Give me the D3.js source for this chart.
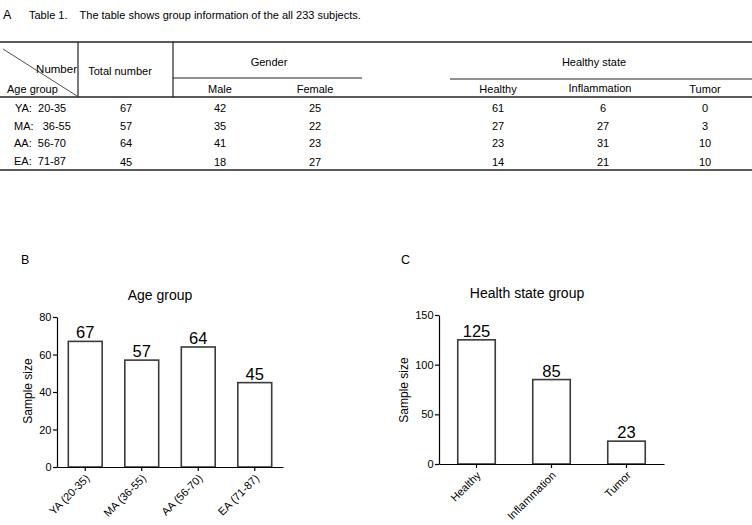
<!DOCTYPE html>
<html><head><meta charset="utf-8">
<script src="https://cdn.jsdelivr.net/npm/d3@7/dist/d3.min.js"></script>
<style>
html,body{margin:0;padding:0;background:#fff;}
svg{display:block;font-family:"Liberation Sans",Arial,sans-serif;}
</style></head>
<body>
<svg id="c" width="752" height="525"></svg>
<script>
// ---- data ----
const rowLabels = ["YA:  20-35", "MA:   36-55", "AA:  56-70", "EA:  71-87"];
const totalNumber = [67, 57, 64, 45];
const male = [42, 35, 41, 18];
const female = [25, 22, 23, 27];
const healthy = [61, 27, 23, 14];
const inflammation = [6, 27, 31, 21];
const tumor = [0, 3, 10, 10];

const ageCategories = ["YA (20-35)", "MA (36-55)", "AA (56-70)", "EA (71-87)"];
const ageValues = [67, 57, 64, 45];
const ageTicks = [0, 20, 40, 60, 80];

const healthCategories = ["Healthy", "Inflammation", "Tumor"];
const healthValues = [125, 85, 23];
const healthTicks = [0, 50, 100, 150];

const svg = d3.select("#c");
const FONT = "Liberation Sans, Arial, sans-serif";

// ---- Panel A: table ----
svg.append("text").attr("x", 3).attr("y", 19).attr("font-size", 12.5).text("A");
svg.append("text").attr("x", 29).attr("y", 19).attr("font-size", 11).attr("xml:space","preserve")
  .text("Table 1.    The table shows group information of the all 233 subjects.");

const ln = (x1,y1,x2,y2,w)=>svg.append("line").attr("x1",x1).attr("y1",y1).attr("x2",x2).attr("y2",y2)
  .attr("stroke","#222").attr("stroke-width",w||1);
ln(0,42,752,42,1.5);
ln(0,97,752,97,1.3);
ln(0,170,752,170,1.5);
ln(173,78,362,78,1);
ln(450,79,752,79,1);
ln(78,42,78,97,1.2);
ln(173,42,173,97,1.2);
ln(3,49,77,96,0.8);

const txt = (x,y,s,anchor,size)=>svg.append("text").attr("x",x).attr("y",y)
  .attr("font-size",size||11).attr("text-anchor",anchor||"middle").attr("xml:space","preserve").text(s);
txt(77,73,"Number","end",11.5);
txt(7,93,"Age group","start");
txt(120,75,"Total number");
txt(269,66,"Gender");
txt(220,93,"Male");
txt(315,93,"Female");
txt(594,66,"Healthy state");
txt(498,93,"Healthy");
txt(600,92,"Inflammation");
txt(705,93,"Tumor");

const rowY = d3.scaleBand().domain(d3.range(4)).range([99,170]);
const cols = [
  {x:126, v:totalNumber}, {x:220, v:male}, {x:315, v:female},
  {x:498, v:healthy}, {x:603, v:inflammation}, {x:705, v:tumor}
];
rowLabels.forEach((lab,i)=>{
  const y = rowY(i) + rowY.bandwidth()/2 + 4;
  txt(i===0?15:14, y, lab, "start");
  cols.forEach(c=>txt(c.x, y + (i===3?1:0), String(c.v[i])));
});

// ---- bar chart helper ----
function barChart(o){
  const g = svg.append("g");
  const x = d3.scaleBand().domain(o.cats).range([o.x0,o.x1]).paddingInner(o.pi).paddingOuter(o.po);
  const y = d3.scaleLinear().domain([0,o.ymax]).range([o.y0,o.y1]);
  g.append("text").attr("x",o.letterX).attr("y",o.letterY).attr("font-size",12.5).text(o.letter);
  g.append("text").attr("x",o.titleX).attr("y",o.titleY).attr("font-size",14).attr("text-anchor","middle").text(o.title);
  g.selectAll("rect.bar").data(o.vals).join("rect").attr("class","bar")
    .attr("x",(d,i)=>x(o.cats[i])).attr("width",x.bandwidth())
    .attr("y",d=>y(d)).attr("height",d=>y(0)-y(d))
    .attr("fill","#fff").attr("stroke","#3a3a3a").attr("stroke-width",1.6);
  g.selectAll("text.val").data(o.vals).join("text").attr("class","val")
    .attr("x",(d,i)=>x(o.cats[i])+x.bandwidth()/2).attr("y",d=>y(d)-3)
    .attr("text-anchor","middle").attr("font-size",16.5).text(d=>d);
  const ya = g.append("g").attr("transform",`translate(${o.x0},0)`)
    .call(d3.axisLeft(y).tickValues(o.ticks).tickSize(4).tickSizeOuter(0).tickPadding(1.5));
  ya.attr("font-family",FONT).attr("font-size",11);
  ya.selectAll("text").attr("fill","#000");
  const xa = g.append("g").attr("transform",`translate(0,${o.y0})`)
    .call(d3.axisBottom(x).tickSize(4).tickSizeOuter(0));
  xa.attr("font-family",FONT).attr("font-size",11);
  xa.selectAll("text").attr("fill","#000")
    .attr("text-anchor","end").attr("dy",0).attr("y",0)
    .attr("transform","translate(5,12) rotate(-45)");
  g.selectAll(".domain, .tick line").attr("stroke","#000").attr("stroke-width",1.2);
  g.append("text").attr("transform",`translate(${o.ylabX},${o.ylabY}) rotate(-90)`)
    .attr("text-anchor","middle").attr("font-size",12).text("Sample size");
}

barChart({cats:ageCategories, vals:ageValues, ticks:ageTicks, ymax:80,
  x0:57, x1:283, y0:467, y1:317, pi:0.4, po:0.2,
  letter:"B", letterX:21, letterY:264, title:"Age group", titleX:160, titleY:300,
  ylabX:32, ylabY:391});

barChart({cats:healthCategories, vals:healthValues, ticks:healthTicks, ymax:150,
  x0:439, x1:664, y0:464, y1:315, pi:0.5, po:0.25,
  letter:"C", letterX:401, letterY:264, title:"Health state group", titleX:527, titleY:298,
  ylabX:408, ylabY:390});
</script>
</body></html>
